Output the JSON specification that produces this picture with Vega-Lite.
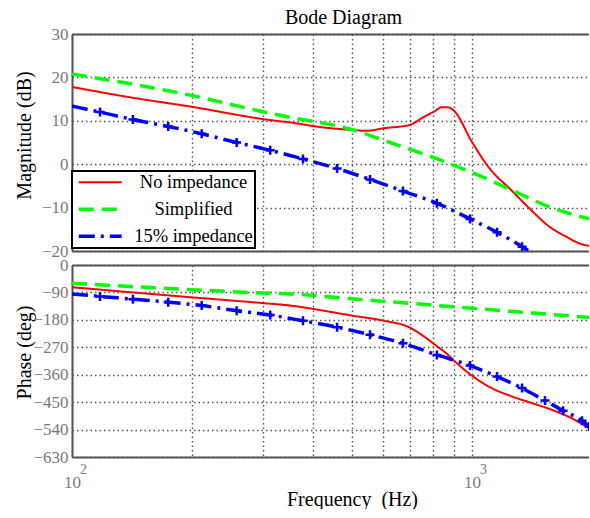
{
  "$schema": "https://vega.github.io/schema/vega-lite/v6.json",
  "background": "white",
  "padding": {"left": 14, "top": 8, "right": 0, "bottom": 0},
  "bounds": "flush",
  "spacing": 14,
  "config": {
    "font": "Liberation Serif",
    "view": {"stroke": null},
    "style": {
      "guide-label": {"font": "Liberation Serif"},
      "guide-title": {"font": "Liberation Serif"},
      "group-title": {"font": "Liberation Serif"}
    },
    "axis": {
      "labelFont": "Liberation Serif",
      "labelFontSize": 17,
      "labelColor": "#7a7a7a",
      "labelPadding": 4,
      "labelFlush": false,
      "labelOverlap": false,
      "titleFont": "Liberation Serif",
      "titleFontSize": 20,
      "titleFontWeight": "normal",
      "titleColor": "#000000",
      "domainColor": "#555555",
      "domainWidth": 2,
      "gridColor": "#555555",
      "gridDash": [1.5, 3],
      "gridWidth": 1.4,
      "gridOpacity": 1,
      "ticks": false
    },
    "legend": {
      "labelFont": "Liberation Serif",
      "labelFontSize": 18.5,
      "labelColor": "#000000",
      "labelLimit": 300,
      "labelAlign": "center",
      "strokeColor": "#000000",
      "strokeWidth": 2,
      "fillColor": "#ffffff",
      "padding": 2,
      "rowPadding": 8,
      "symbolType": "M-3,0H3",
      "symbolSize": 205,
      "symbolOffset": 17,
      "symbolStrokeWidth": 3.5,
      "labelOffset": 84
    }
  },
  "datasets": {
    "mag": [
      {"series": "No impedance", "f": 100, "db": 17.8},
      {"series": "No impedance", "f": 140, "db": 15.4},
      {"series": "No impedance", "f": 200, "db": 13.2},
      {"series": "No impedance", "f": 300, "db": 10.4},
      {"series": "No impedance", "f": 371, "db": 9.3},
      {"series": "No impedance", "f": 400, "db": 8.8},
      {"series": "No impedance", "f": 500, "db": 7.9},
      {"series": "No impedance", "f": 545, "db": 7.7},
      {"series": "No impedance", "f": 603, "db": 8.3},
      {"series": "No impedance", "f": 696, "db": 9.0},
      {"series": "No impedance", "f": 755, "db": 10.8},
      {"series": "No impedance", "f": 803, "db": 12.1},
      {"series": "No impedance", "f": 841, "db": 13.1},
      {"series": "No impedance", "f": 871, "db": 13.1},
      {"series": "No impedance", "f": 902, "db": 12.3},
      {"series": "No impedance", "f": 1000, "db": 5.1},
      {"series": "No impedance", "f": 1109, "db": -1.1},
      {"series": "No impedance", "f": 1245, "db": -5.7},
      {"series": "No impedance", "f": 1396, "db": -10.3},
      {"series": "No impedance", "f": 1567, "db": -14.5},
      {"series": "No impedance", "f": 1728, "db": -16.8},
      {"series": "No impedance", "f": 1862, "db": -18.3},
      {"series": "No impedance", "f": 1961, "db": -18.8},
      {"series": "Simplified", "f": 100, "db": 20.8},
      {"series": "Simplified", "f": 200, "db": 15.8},
      {"series": "Simplified", "f": 300, "db": 12.1},
      {"series": "Simplified", "f": 351, "db": 10.8},
      {"series": "Simplified", "f": 501, "db": 8.0},
      {"series": "Simplified", "f": 624, "db": 5.0},
      {"series": "Simplified", "f": 803, "db": 1.5},
      {"series": "Simplified", "f": 1000, "db": -1.9},
      {"series": "Simplified", "f": 1245, "db": -5.8},
      {"series": "Simplified", "f": 1567, "db": -9.9},
      {"series": "Simplified", "f": 1961, "db": -12.6},
      {"series": "15% impedance", "f": 100, "db": 13.4},
      {"series": "15% impedance", "f": 117.5, "db": 12.0},
      {"series": "15% impedance", "f": 142, "db": 10.3},
      {"series": "15% impedance", "f": 174, "db": 8.7},
      {"series": "15% impedance", "f": 211, "db": 7.0},
      {"series": "15% impedance", "f": 258, "db": 5.0},
      {"series": "15% impedance", "f": 313, "db": 3.2},
      {"series": "15% impedance", "f": 378, "db": 1.2},
      {"series": "15% impedance", "f": 460, "db": -1.0},
      {"series": "15% impedance", "f": 556, "db": -3.5},
      {"series": "15% impedance", "f": 672, "db": -6.2},
      {"series": "15% impedance", "f": 817, "db": -9.0},
      {"series": "15% impedance", "f": 989, "db": -12.6},
      {"series": "15% impedance", "f": 1155, "db": -15.7},
      {"series": "15% impedance", "f": 1334, "db": -19.0},
      {"series": "15% impedance", "f": 1522, "db": -22.5}
    ],
    "phase": [
      {"series": "No impedance", "f": 100, "deg": -73},
      {"series": "No impedance", "f": 199, "deg": -106},
      {"series": "No impedance", "f": 300, "deg": -125},
      {"series": "No impedance", "f": 351, "deg": -133},
      {"series": "No impedance", "f": 400, "deg": -144},
      {"series": "No impedance", "f": 501, "deg": -166},
      {"series": "No impedance", "f": 603, "deg": -183},
      {"series": "No impedance", "f": 696, "deg": -204},
      {"series": "No impedance", "f": 754, "deg": -232},
      {"series": "No impedance", "f": 803, "deg": -259},
      {"series": "No impedance", "f": 866, "deg": -292},
      {"series": "No impedance", "f": 902, "deg": -314},
      {"series": "No impedance", "f": 1000, "deg": -363},
      {"series": "No impedance", "f": 1109, "deg": -401},
      {"series": "No impedance", "f": 1245, "deg": -429},
      {"series": "No impedance", "f": 1396, "deg": -451},
      {"series": "No impedance", "f": 1567, "deg": -473},
      {"series": "No impedance", "f": 1757, "deg": -500},
      {"series": "No impedance", "f": 1961, "deg": -535},
      {"series": "Simplified", "f": 100, "deg": -60},
      {"series": "Simplified", "f": 199, "deg": -81},
      {"series": "Simplified", "f": 300, "deg": -92},
      {"series": "Simplified", "f": 351, "deg": -95},
      {"series": "Simplified", "f": 501, "deg": -111},
      {"series": "Simplified", "f": 803, "deg": -132},
      {"series": "Simplified", "f": 1000, "deg": -142},
      {"series": "Simplified", "f": 1245, "deg": -152},
      {"series": "Simplified", "f": 1567, "deg": -162},
      {"series": "Simplified", "f": 1961, "deg": -172},
      {"series": "15% impedance", "f": 100, "deg": -95},
      {"series": "15% impedance", "f": 117.5, "deg": -103},
      {"series": "15% impedance", "f": 142, "deg": -112},
      {"series": "15% impedance", "f": 174, "deg": -122},
      {"series": "15% impedance", "f": 211, "deg": -133},
      {"series": "15% impedance", "f": 258, "deg": -150},
      {"series": "15% impedance", "f": 313, "deg": -164},
      {"series": "15% impedance", "f": 378, "deg": -183},
      {"series": "15% impedance", "f": 460, "deg": -204},
      {"series": "15% impedance", "f": 556, "deg": -229},
      {"series": "15% impedance", "f": 672, "deg": -257},
      {"series": "15% impedance", "f": 817, "deg": -295},
      {"series": "15% impedance", "f": 989, "deg": -330},
      {"series": "15% impedance", "f": 1155, "deg": -366},
      {"series": "15% impedance", "f": 1334, "deg": -404},
      {"series": "15% impedance", "f": 1522, "deg": -445},
      {"series": "15% impedance", "f": 1689, "deg": -478},
      {"series": "15% impedance", "f": 1884, "deg": -511},
      {"series": "15% impedance", "f": 1961, "deg": -530}
    ]
  },
  "resolve": {"scale": {"color": "independent", "strokeDash": "independent"}},
  "vconcat": [
    {
      "width": 517,
      "height": 217,
      "title": {"text": "Bode Diagram", "font": "Liberation Serif", "fontSize": 20, "fontWeight": "normal", "color": "#000000", "anchor": "middle", "dx": 13, "offset": -3},
      "data": {"name": "mag"},
      "resolve": {"axis": {"x": "independent"}},
      "layer": [
        {
          "transform": [{"filter": "datum.series !== '15% impedance'"}],
          "mark": {"type": "line", "interpolate": "monotone", "clip": true},
          "encoding": {
            "x": {"field": "f", "type": "quantitative",
                  "scale": {"type": "log", "domain": [100, 1961], "nice": false},
                  "axis": {"orient": "bottom", "values": [100, 200, 300, 400, 500, 600, 700, 800, 900, 1000], "labels": false, "grid": true, "domain": true, "title": null}},
            "y": {"field": "db", "type": "quantitative",
                  "scale": {"domain": [-20, 30], "nice": false},
                  "axis": {"values": [-20, -10, 0, 10, 20, 30], "labelOverlap": false, "labelFlush": false,
                           "labelFont": "Liberation Serif", "labelFontSize": 17, "labelColor": "#7a7a7a",
                           "grid": true, "domain": true,
                           "title": "Magnitude (dB)", "titleFont": "Liberation Serif", "titleFontSize": 20, "titleFontWeight": "normal",
                           "titleX": -48, "titleY": 101, "titleBaseline": "middle", "titleAngle": -90}},
            "color": {"field": "series", "type": "nominal",
                      "scale": {"domain": ["No impedance", "Simplified", "15% impedance"], "range": ["#ff0000", "#00ff00", "#0000ff"]},
                      "legend": {"title": null, "orient": "none", "legendX": 0, "legendY": 137,
                                 "labelFont": "Liberation Serif", "labelFontSize": 18.5,
                                 "encode": {"symbols": {"update": {"strokeWidth": {"signal": "datum.value === 'No impedance' ? 2 : 3.5"}}}}}},
            "strokeDash": {"field": "series", "type": "nominal",
                           "scale": {"domain": ["No impedance", "Simplified", "15% impedance"], "range": [[1, 0], [15, 8], [16, 6, 3, 6]]},
                           "legend": {"title": null, "orient": "none", "legendX": 0, "legendY": 137, "labelFont": "Liberation Serif", "labelFontSize": 18.5}},
            "strokeWidth": {"condition": {"test": "datum.series === 'No impedance'", "value": 2}, "value": 3.5}
          }
        },
        {
          "transform": [{"filter": "datum.series === '15% impedance'"}],
          "mark": {"type": "line", "interpolate": "monotone", "clip": true, "strokeWidth": 3.5},
          "encoding": {
            "x": {"field": "f", "type": "quantitative",
                  "scale": {"type": "log", "domain": [100, 1961], "nice": false},
                  "axis": {"orient": "top", "labels": false, "grid": false, "domain": true, "title": null}},
            "y": {"field": "db", "type": "quantitative"},
            "color": {"field": "series", "type": "nominal"},
            "strokeDash": {"field": "series", "type": "nominal"}
          }
        },
        {
          "transform": [{"filter": "datum.series === '15% impedance' && datum.f > 100"}],
          "mark": {"type": "point", "shape": "M-1,0H1M0,-1V1", "filled": false, "color": "#0000ff", "strokeWidth": 2.5, "size": 81, "opacity": 1, "clip": true},
          "encoding": {
            "x": {"field": "f", "type": "quantitative", "scale": {"type": "log", "domain": [100, 1961], "nice": false}, "axis": null},
            "y": {"field": "db", "type": "quantitative"}
          }
        }
      ]
    },
    {
      "width": 517,
      "height": 192,
      "data": {"name": "phase"},
      "resolve": {"axis": {"x": "independent", "y": "independent"}},
      "layer": [
        {
          "transform": [{"filter": "datum.series !== '15% impedance'"}],
          "mark": {"type": "line", "interpolate": "monotone", "clip": true},
          "encoding": {
            "x": {"field": "f", "type": "quantitative",
                  "scale": {"type": "log", "domain": [100, 1961], "nice": false},
                  "axis": {"orient": "bottom", "values": [100, 200, 300, 400, 500, 600, 700, 800, 900, 1000],
                           "labelExpr": "datum.value == 100 || datum.value == 1000 ? '10' : ''",
                           "labelOverlap": false, "labelFlush": false,
                           "labelFont": "Liberation Serif", "labelFontSize": 17, "labelColor": "#7a7a7a",
                           "labelPadding": 17, "grid": true, "domain": true,
                           "title": "Frequency\u00a0 (Hz)", "titleFont": "Liberation Serif", "titleFontSize": 20, "titleFontWeight": "normal",
                           "titleX": 280, "titleY": 42, "titleBaseline": "middle", "titleAlign": "center"}},
            "y": {"field": "deg", "type": "quantitative",
                  "scale": {"domain": [-630, 0], "nice": false},
                  "axis": {"orient": "left", "values": [-630, -450, -270, -90], "labelOverlap": false, "labelFlush": false,
                           "labelFont": "Liberation Serif", "labelFontSize": 17, "labelColor": "#7a7a7a",
                           "grid": true, "domain": true,
                           "title": "Phase (deg)", "titleFont": "Liberation Serif", "titleFontSize": 20, "titleFontWeight": "normal",
                           "titleX": -48, "titleY": 87, "titleBaseline": "middle", "titleAngle": -90}},
            "color": {"field": "series", "type": "nominal",
                      "scale": {"domain": ["No impedance", "Simplified", "15% impedance"], "range": ["#ff0000", "#00ff00", "#0000ff"]},
                      "legend": null},
            "strokeDash": {"field": "series", "type": "nominal",
                           "scale": {"domain": ["No impedance", "Simplified", "15% impedance"], "range": [[1, 0], [15, 8], [16, 6, 3, 6]]},
                           "legend": null},
            "strokeWidth": {"condition": {"test": "datum.series === 'No impedance'", "value": 2}, "value": 3.5}
          }
        },
        {
          "transform": [{"filter": "datum.series === '15% impedance'"}],
          "mark": {"type": "line", "interpolate": "monotone", "clip": true, "strokeWidth": 3.5},
          "encoding": {
            "x": {"field": "f", "type": "quantitative",
                  "scale": {"type": "log", "domain": [100, 1961], "nice": false},
                  "axis": {"orient": "top", "labels": false, "grid": false, "domain": true, "title": null}},
            "y": {"field": "deg", "type": "quantitative",
                  "scale": {"domain": [-630, 0], "nice": false},
                  "axis": {"orient": "left", "values": [-540, -360, -180, 0], "labelOverlap": false, "labelFlush": false,
                           "labelFont": "Liberation Serif", "labelFontSize": 17, "labelColor": "#7a7a7a",
                           "grid": true, "domain": false, "title": null}},
            "color": {"field": "series", "type": "nominal", "legend": null},
            "strokeDash": {"field": "series", "type": "nominal", "legend": null}
          }
        },
        {
          "transform": [{"filter": "datum.series === '15% impedance' && datum.f > 100"}],
          "mark": {"type": "point", "shape": "M-1,0H1M0,-1V1", "filled": false, "color": "#0000ff", "strokeWidth": 2.5, "size": 81, "opacity": 1, "clip": true},
          "encoding": {
            "x": {"field": "f", "type": "quantitative",
                  "scale": {"type": "log", "domain": [100, 1961], "nice": false},
                  "axis": {"orient": "bottom", "values": [100, 1000],
                           "labelExpr": "datum.value == 100 ? '2' : '3'",
                           "labelOverlap": false, "labelFlush": false,
                           "labelFont": "Liberation Serif", "labelFontSize": 14, "labelColor": "#7a7a7a",
                           "labelPadding": 5, "labelOffset": 11,
                           "grid": false, "domain": false, "title": null}},
            "y": {"field": "deg", "type": "quantitative", "axis": null}
          }
        }
      ]
    }
  ]
}
